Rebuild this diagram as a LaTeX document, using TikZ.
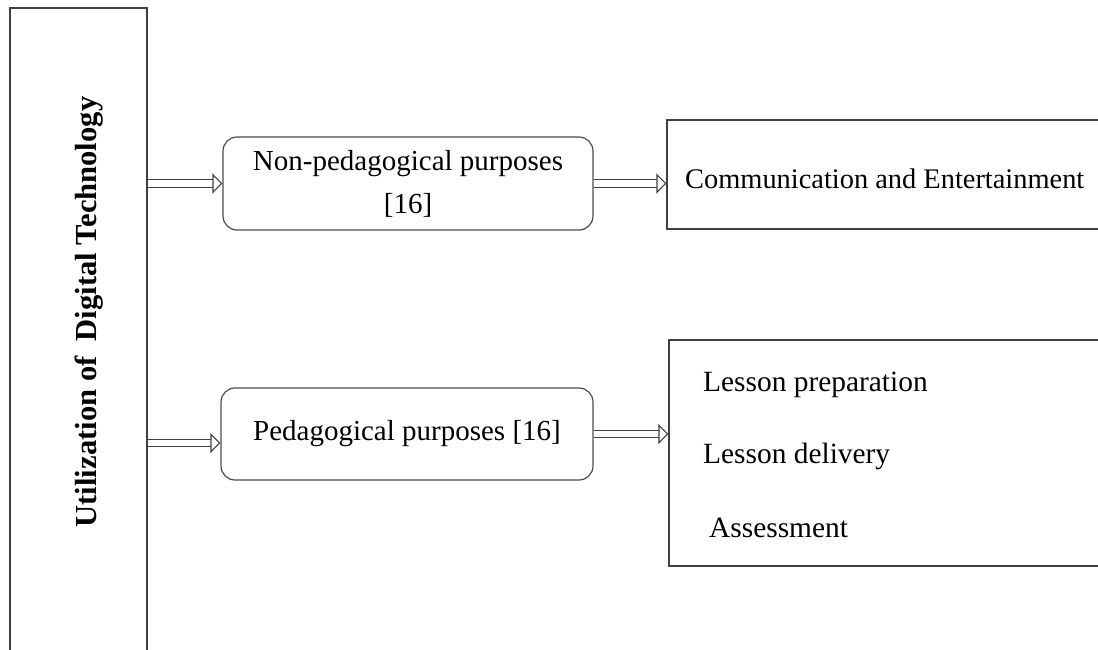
\documentclass[tikz,border=0pt]{standalone}
\usepackage{fontspec}
\setmainfont{Liberation Serif}
\usetikzlibrary{arrows.meta}
\tikzstyle{block}=[rectangle,draw=black!75,line width=1.2pt,inner sep=0pt]
\tikzstyle{purpose}=[rectangle,rounded corners=14pt,draw=black!70,line width=1.2pt,align=center,font=\fontsize{29}{43}\selectfont]
\tikzstyle{item}=[anchor=base west,inner sep=0pt,font=\fontsize{29.4}{34}\selectfont]
\tikzstyle{link}=[draw=black!75,line width=1.1pt,double=white,double distance=6.5pt,-{Triangle[open,fill=white,length=10pt,width=20pt,line width=1.1pt]}]

\begin{document}
\begin{tikzpicture}[x=1pt,y=-1pt]
		\useasboundingbox (0,0) rectangle (1098,649);
		\clip (0,0) rectangle (1098,649);
		\node[block,minimum width=137,minimum height=660] at (78.5,338) (util) {};
		\node[rotate=90,anchor=base,inner sep=0pt,font=\bfseries\fontsize{30.6}{36}\selectfont] at (96,312) (utiltext) {Utilization of\ \ Digital Technology};
		\node[purpose,minimum width=370,minimum height=93] at (408,183.5) (nonped) {Non-pedagogical purposes\\{[16]}};
		\node[purpose,minimum width=372,minimum height=92] at (407,434) (ped) {Pedagogical purposes [16]};
		\node[block,minimum width=460,minimum height=109] at (897,174.5) (comm) {};
		\node[block,minimum width=458,minimum height=226] at (898,453) (lessons) {};
		\node[item,font=\fontsize{28.4}{34}\selectfont] at (685,188) (commtext) {Communication and Entertainment};
		\node[item] at (703,391) (prep) {Lesson preparation};
		\node[item] at (703,463) (deliv) {Lesson delivery};
		\node[item] at (709,537) (assess) {Assessment};
		\draw[link] (util.east |- nonped.west) -- (nonped.west);
		\draw[link] ([yshift=-9pt]ped.west -| util.east) -- ([yshift=-9pt]ped.west);
		\draw[link] (nonped.east) -- (comm.west |- nonped.east);
		\draw[link] (ped.east) -- (lessons.west |- ped.east);
\end{tikzpicture}
\end{document}
